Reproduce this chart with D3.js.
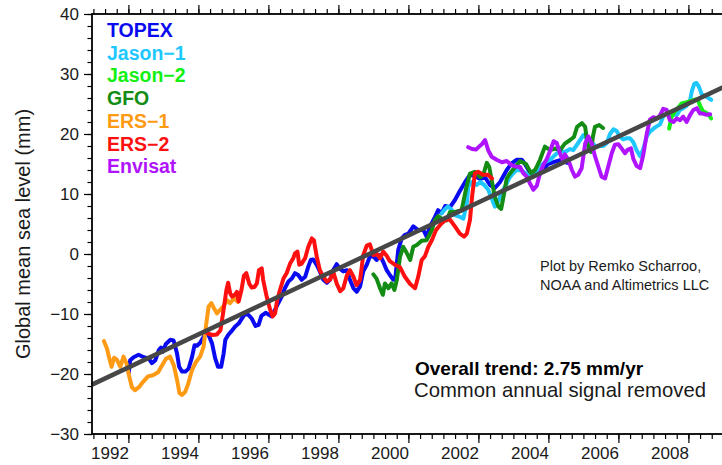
<!DOCTYPE html>
<html>
<head>
<meta charset="utf-8">
<script src="https://cdn.jsdelivr.net/npm/d3@7"></script>
<style>
  html, body { margin: 0; padding: 0; background: #fff; }
  svg { display: block; }
  text { font-family: "Liberation Sans", Arial, Helvetica, sans-serif; }
</style>
</head>
<body>
<svg id="chart" width="722" height="465"></svg>
<script>
// Global mean sea level from satellite altimetry, [decimal year, mm]
const topex = [[1992.55,-19.8],[1992.59,-17.7],[1992.69,-17.2],[1992.83,-16.8],[1992.98,-17.2],[1993.12,-17.4],[1993.21,-18.2],[1993.31,-17.7],[1993.41,-16.0],[1993.47,-15.6],[1993.52,-16.3],[1993.61,-15.0],[1993.74,-14.3],[1993.83,-14.4],[1993.93,-16.6],[1993.99,-18.8],[1994.07,-19.6],[1994.17,-19.6],[1994.26,-19.1],[1994.36,-17.1],[1994.43,-15.2],[1994.50,-15.3],[1994.59,-14.8],[1994.69,-13.8],[1994.79,-12.9],[1994.85,-13.8],[1994.93,-14.9],[1995.02,-17.4],[1995.10,-18.8],[1995.19,-18.8],[1995.26,-16.6],[1995.31,-14.3],[1995.39,-13.5],[1995.48,-12.9],[1995.59,-12.1],[1995.69,-11.6],[1995.79,-10.7],[1995.88,-9.9],[1995.98,-10.2],[1996.07,-10.8],[1996.17,-12.0],[1996.26,-11.8],[1996.34,-10.3],[1996.46,-9.8],[1996.63,-10.4],[1996.73,-9.3],[1996.82,-8.2],[1996.92,-7.1],[1997.01,-5.7],[1997.11,-4.6],[1997.21,-4.1],[1997.30,-3.2],[1997.39,-3.5],[1997.49,-4.3],[1997.59,-3.8],[1997.68,-2.1],[1997.75,-1.0],[1997.82,-0.9],[1997.92,-1.8],[1998.01,-2.9],[1998.11,-4.3],[1998.21,-4.8],[1998.30,-4.3],[1998.39,-2.7],[1998.49,-1.7],[1998.57,-2.4],[1998.68,-2.9],[1998.78,-2.7],[1998.87,-4.3],[1998.97,-5.7],[1999.06,-6.3],[1999.16,-5.4],[1999.25,-2.9],[1999.35,-1.8],[1999.44,-0.4],[1999.54,-0.4],[1999.63,-1.0],[1999.73,-0.2],[1999.82,-1.3],[1999.92,-2.7],[2000.01,-3.5],[2000.11,-4.3],[2000.16,-4.3],[2000.25,0.7],[2000.35,2.6],[2000.44,3.2],[2000.54,3.4],[2000.68,4.6],[2000.82,4.0],[2000.97,4.0],[2001.06,2.9],[2001.16,4.6],[2001.30,6.2],[2001.39,7.3],[2001.49,6.8],[2001.59,8.0],[2001.73,7.8],[2001.87,9.0],[2002.01,10.5],[2002.16,12.0],[2002.30,13.2],[2002.44,13.0],[2002.59,12.5],[2002.73,12.8],[2002.87,11.5],[2003.01,11.0],[2003.16,12.0],[2003.35,14.0],[2003.49,15.1],[2003.63,15.7],[2003.78,15.7],[2003.87,15.0],[2003.97,14.0],[2004.06,13.2],[2004.19,13.3],[2004.36,13.8],[2004.53,15.0],[2004.73,15.4],[2004.92,15.7],[2005.07,15.2]];

const jason1 = [[2001.49,6.8],[2001.59,7.5],[2001.67,7.9],[2001.79,7.3],[2001.87,6.5],[2002.01,6.2],[2002.11,5.9],[2002.21,8.4],[2002.25,11.2],[2002.35,12.0],[2002.49,11.5],[2002.59,12.0],[2002.71,11.5],[2002.82,10.7],[2002.92,9.3],[2003.01,7.9],[2003.11,8.8],[2003.21,10.4],[2003.30,11.2],[2003.44,12.8],[2003.54,13.5],[2003.63,14.0],[2003.78,13.9],[2003.92,13.3],[2004.06,12.9],[2004.16,13.6],[2004.30,14.6],[2004.44,15.3],[2004.59,15.7],[2004.73,16.5],[2004.87,17.2],[2005.01,17.0],[2005.16,17.5],[2005.25,17.3],[2005.39,18.5],[2005.54,19.8],[2005.66,19.2],[2005.79,18.5],[2005.92,17.8],[2006.01,18.0],[2006.11,18.0],[2006.21,18.5],[2006.30,20.0],[2006.40,20.8],[2006.49,20.5],[2006.59,19.5],[2006.68,19.1],[2006.78,19.3],[2006.87,19.3],[2006.97,18.6],[2007.06,17.3],[2007.16,16.3],[2007.25,17.5],[2007.35,19.6],[2007.44,20.4],[2007.59,21.1],[2007.73,21.6],[2007.82,22.9],[2007.92,23.4],[2008.01,23.1],[2008.11,23.2],[2008.21,23.2],[2008.30,24.0],[2008.39,24.3],[2008.49,24.7],[2008.59,25.7],[2008.64,27.2],[2008.71,28.4],[2008.77,28.5],[2008.84,27.9],[2008.92,26.6],[2009.01,26.4],[2009.11,26.0],[2009.19,25.7]];

const jason2 = [[2007.99,20.9],[2008.06,22.9],[2008.16,23.8],[2008.25,24.4],[2008.35,25.1],[2008.49,25.3],[2008.61,25.5],[2008.70,25.7],[2008.80,25.8],[2008.89,24.5],[2008.96,23.8],[2009.06,23.5],[2009.14,23.1],[2009.19,22.6]];

const gfo = [[1999.54,-3.4],[1999.63,-4.1],[1999.73,-5.7],[1999.81,-6.8],[1999.87,-4.9],[1999.97,-5.7],[2000.06,-4.9],[2000.14,-6.0],[2000.21,-4.3],[2000.30,-0.5],[2000.39,1.2],[2000.49,0.2],[2000.59,-1.0],[2000.68,1.2],[2000.78,1.5],[2000.92,2.2],[2001.06,2.3],[2001.21,4.0],[2001.30,5.7],[2001.39,6.3],[2001.54,5.7],[2001.63,5.6],[2001.73,7.0],[2001.87,7.0],[2002.06,7.3],[2002.20,11.2],[2002.30,13.4],[2002.44,13.7],[2002.59,12.8],[2002.68,13.2],[2002.78,15.2],[2002.85,14.5],[2002.93,12.0],[2003.01,9.5],[2003.11,7.9],[2003.19,7.5],[2003.25,9.3],[2003.35,12.6],[2003.44,13.4],[2003.59,14.5],[2003.73,15.5],[2003.90,15.0],[2004.04,13.5],[2004.16,14.0],[2004.30,15.7],[2004.44,17.9],[2004.59,17.3],[2004.76,17.6],[2004.87,17.3],[2005.01,18.4],[2005.16,19.0],[2005.27,19.5],[2005.36,21.2],[2005.50,21.8],[2005.59,21.2],[2005.64,19.0],[2005.70,17.3],[2005.76,17.0],[2005.81,19.5],[2005.87,21.2],[2005.99,21.5],[2006.10,21.0]];

const ers1 = [[1991.84,-14.5],[1991.93,-15.8],[1991.99,-17.3],[1992.06,-18.8],[1992.13,-17.3],[1992.21,-17.6],[1992.31,-18.8],[1992.40,-17.1],[1992.49,-18.3],[1992.56,-20.3],[1992.64,-22.2],[1992.73,-22.7],[1992.84,-22.2],[1992.96,-21.3],[1993.10,-20.4],[1993.24,-20.2],[1993.39,-19.7],[1993.50,-18.6],[1993.61,-17.5],[1993.73,-17.1],[1993.84,-18.6],[1993.93,-21.0],[1994.00,-23.2],[1994.07,-23.5],[1994.16,-23.0],[1994.24,-21.8],[1994.36,-19.3],[1994.47,-18.0],[1994.59,-17.1],[1994.69,-15.4],[1994.74,-12.7],[1994.83,-8.8],[1994.91,-8.2],[1994.99,-9.1],[1995.07,-9.9],[1995.16,-9.3],[1995.27,-8.6],[1995.36,-7.7],[1995.44,-8.2],[1995.56,-7.4],[1995.67,-8.0]];

const ers2 = [[1994.79,-13.2],[1994.93,-13.5],[1995.07,-13.4],[1995.17,-12.7],[1995.26,-9.3],[1995.34,-6.0],[1995.39,-4.8],[1995.45,-6.6],[1995.50,-7.1],[1995.58,-6.8],[1995.64,-6.3],[1995.69,-7.9],[1995.77,-6.0],[1995.84,-3.6],[1995.91,-3.2],[1995.99,-4.9],[1996.06,-5.6],[1996.14,-5.5],[1996.21,-4.9],[1996.27,-2.7],[1996.35,-2.4],[1996.39,-4.3],[1996.49,-7.1],[1996.59,-9.3],[1996.66,-10.4],[1996.73,-9.9],[1996.79,-7.7],[1996.87,-6.0],[1996.97,-4.1],[1997.06,-3.2],[1997.16,-1.6],[1997.25,-0.7],[1997.30,0.1],[1997.37,0.4],[1997.42,-1.8],[1997.49,-1.6],[1997.59,-0.7],[1997.68,1.2],[1997.78,2.6],[1997.84,2.3],[1997.92,-0.4],[1998.01,-2.7],[1998.11,-3.8],[1998.21,-4.6],[1998.30,-4.3],[1998.39,-2.9],[1998.49,-4.9],[1998.59,-6.2],[1998.68,-5.7],[1998.78,-3.6],[1998.87,-2.7],[1998.97,-3.8],[1999.06,-5.2],[1999.16,-4.3],[1999.25,-0.2],[1999.35,1.4],[1999.44,1.6],[1999.54,-0.2],[1999.63,0.1],[1999.73,-0.7],[1999.82,0.4],[1999.92,-0.3],[2000.01,-1.2],[2000.16,-1.8],[2000.30,-2.2],[2000.44,-3.8],[2000.59,-5.0],[2000.73,-5.7],[2000.82,-3.8],[2000.92,-1.0],[2001.01,-0.4],[2001.11,1.2],[2001.21,2.3],[2001.33,4.0],[2001.47,5.0],[2001.61,5.7],[2001.73,5.7],[2001.87,4.6],[2002.01,3.4],[2002.13,2.9],[2002.21,3.4],[2002.30,5.7],[2002.36,9.6],[2002.44,13.4],[2002.53,13.7],[2002.67,13.2],[2002.81,13.2],[2002.93,12.6]];

const envisat = [[2002.25,17.8],[2002.36,17.5],[2002.47,17.4],[2002.56,17.9],[2002.64,18.3],[2002.73,19.0],[2002.82,17.3],[2002.92,16.2],[2003.06,15.7],[2003.21,15.3],[2003.35,15.5],[2003.49,14.8],[2003.59,14.6],[2003.73,14.5],[2003.82,13.5],[2003.92,12.9],[2004.01,11.8],[2004.11,10.7],[2004.21,11.4],[2004.30,13.4],[2004.39,14.8],[2004.49,15.8],[2004.59,17.2],[2004.69,18.8],[2004.78,18.5],[2004.87,16.8],[2004.95,15.6],[2005.01,16.6],[2005.11,15.7],[2005.21,14.0],[2005.30,12.9],[2005.39,13.2],[2005.49,14.3],[2005.59,18.4],[2005.68,19.6],[2005.78,18.4],[2005.87,16.3],[2005.97,14.5],[2006.06,12.9],[2006.16,12.6],[2006.25,14.6],[2006.35,16.8],[2006.44,18.2],[2006.54,18.3],[2006.63,17.6],[2006.73,16.8],[2006.81,17.4],[2006.90,17.6],[2006.97,15.8],[2007.06,14.7],[2007.16,14.3],[2007.25,16.5],[2007.35,20.0],[2007.44,22.4],[2007.54,22.8],[2007.63,22.6],[2007.73,23.1],[2007.82,24.2],[2007.92,24.0],[2008.01,22.3],[2008.11,22.0],[2008.21,22.6],[2008.30,22.3],[2008.39,22.9],[2008.49,22.0],[2008.59,23.2],[2008.68,24.0],[2008.78,24.3],[2008.87,23.4],[2008.96,23.4],[2009.06,23.2],[2009.16,23.3]];

const missionNames = ["TOPEX", "Jason\u22121", "Jason\u22122", "GFO", "ERS\u22121", "ERS\u22122", "Envisat"];
const missionColors = ["#0a0af0", "#1ec8ff", "#14f014", "#128c12", "#ff9a14", "#ff1010", "#b014ff"];
const missionData = [topex, jason1, jason2, gfo, ers1, ers2, envisat];

// Linear fit over the whole record
const trendRate = 2.75;      // mm/yr
const trendAt2000 = 1.6;     // mm

const yearLabels = [1992, 1994, 1996, 1998, 2000, 2002, 2004, 2006, 2008];
const yMajor = [-30, -20, -10, 0, 10, 20, 30, 40];

const svg = d3.select("#chart");
const x = d3.scaleLinear().domain([1991.5, 2009.6]).range([92, 725.5]);
const y = d3.scaleLinear().domain([-30, 40]).range([434, 14]);
const tickShift = 0.54;   // year ticks sit half a year after the labels

const xMajor = yearLabels.map(v => v + tickShift);
const xMinor = d3.range(0, 55).map(k => 1991.54 + k / 3).filter(v => v <= 2009.6);
const yMinor = d3.range(-30, 41, 2);

// data lines
const line = d3.line().x(d => x(d[0])).y(d => y(d[1]));
svg.append("g").selectAll("path")
  .data(missionData)
  .join("path")
  .attr("d", line)
  .attr("fill", "none")
  .attr("stroke", (d, i) => missionColors[i])
  .attr("stroke-width", 4)
  .attr("stroke-linejoin", "round")
  .attr("stroke-linecap", "round");

// trend line
const trend = t => trendAt2000 + trendRate * (t - 2000);
svg.append("path")
  .datum([1991.5, 2009.6])
  .attr("d", d3.line().x(t => x(t)).y(t => y(trend(t))))
  .attr("stroke", "#474747")
  .attr("stroke-width", 4.5)
  .attr("fill", "none");

// axes
function styleAxis(g) {
  g.select(".domain").remove();
  g.selectAll("line").attr("stroke", "#000").attr("stroke-width", 1.2);
  g.selectAll("text").attr("fill", "#1a1a1a").style("font-size", "17px")
    .style("font-family", "'Liberation Sans', Arial, sans-serif");
}
const x0 = x.range()[0], x1 = x.range()[1], yb = y.range()[0], yt = y.range()[1];

svg.append("g").attr("transform", `translate(${x0},0)`)
  .call(d3.axisLeft(y).tickValues(yMinor).tickSize(4.5).tickFormat("")).call(styleAxis);
svg.append("g").attr("transform", `translate(${x0},0)`)
  .call(d3.axisLeft(y).tickValues(yMajor).tickSize(8).tickPadding(5)).call(styleAxis);

svg.append("g").attr("transform", `translate(0,${yb})`)
  .call(d3.axisBottom(x).tickValues(xMinor).tickSize(5).tickFormat("")).call(styleAxis);
svg.append("g").attr("transform", `translate(0,${yb})`)
  .call(d3.axisBottom(x).tickValues(xMajor).tickSize(9).tickFormat("")).call(styleAxis);
svg.append("g").attr("transform", `translate(0,${yb})`)
  .call(d3.axisBottom(x).tickValues(yearLabels).tickSize(0).tickPadding(13).tickFormat(d3.format("d"))).call(styleAxis);

svg.append("g").attr("transform", `translate(0,${yt})`)
  .call(d3.axisTop(x).tickValues(xMinor).tickSize(5).tickFormat("")).call(styleAxis);
svg.append("g").attr("transform", `translate(0,${yt})`)
  .call(d3.axisTop(x).tickValues(xMajor).tickSize(9).tickFormat("")).call(styleAxis);

// frame
svg.append("rect")
  .attr("x", x0).attr("y", yt).attr("width", x1 - x0).attr("height", yb - yt)
  .attr("fill", "none").attr("stroke", "#000").attr("stroke-width", 1.8);

// y title
svg.append("text")
  .attr("transform", `translate(30,${(yb + yt) / 2 + 10}) rotate(-90)`)
  .attr("text-anchor", "middle")
  .attr("fill", "#1a1a1a")
  .style("font-size", "20px")
  .text("Global mean sea level (mm)");

// legend
svg.append("g").selectAll("text")
  .data(missionNames)
  .join("text")
  .attr("x", 107)
  .attr("y", (d, i) => 37 + i * 22.7)
  .attr("fill", (d, i) => missionColors[i])
  .style("font-size", "19.5px")
  .style("font-weight", "bold")
  .text(d => d);

// annotations
svg.append("text").attr("x", 540).attr("y", 271).attr("fill", "#1a1a1a")
  .style("font-size", "14.5px").text("Plot by Remko Scharroo,");
svg.append("text").attr("x", 540).attr("y", 290).attr("fill", "#1a1a1a")
  .style("font-size", "14.5px").text("NOAA and Altimetrics LLC");
svg.append("text").attr("x", 415).attr("y", 375).attr("fill", "#000")
  .style("font-size", "19px").style("font-weight", "bold").text("Overall trend: 2.75 mm/yr");
svg.append("text").attr("x", 414).attr("y", 397).attr("fill", "#1a1a1a")
  .style("font-size", "20.3px").text("Common annual signal removed");
</script>
</body>
</html>
